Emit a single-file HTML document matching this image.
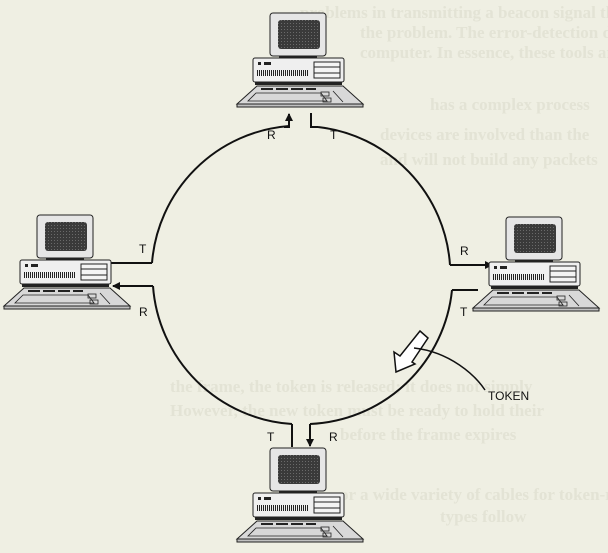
<!DOCTYPE html>
<html><head><style>
html,body{margin:0;padding:0;background:#efefe3;}
svg{display:block;}
.lbl{font-family:"Liberation Sans",sans-serif;}
.bleed{font-family:"Liberation Serif",serif;}
</style></head><body>
<svg width="608" height="553" viewBox="0 0 608 553" xmlns="http://www.w3.org/2000/svg">
<defs>
<pattern id="dots" width="3" height="3" patternUnits="userSpaceOnUse">
<rect width="3" height="3" fill="#3a3a3a"/><rect x="1" y="1" width="1" height="1" fill="#6a6a6a"/>
</pattern>
<pattern id="vent" width="2" height="6" patternUnits="userSpaceOnUse">
<rect width="1" height="6" fill="#222"/>
</pattern>
<g id="pc">
<rect x="17" y="-45" width="56" height="43" rx="3" fill="#e6e6e6" stroke="#222" stroke-width="1"/>
<rect x="25" y="-38" width="42" height="29" rx="3" fill="url(#dots)"/>
<rect x="26" y="-2" width="38" height="3" fill="#222"/>
<rect x="0" y="0" width="91" height="24" rx="2" fill="#efefef" stroke="#222" stroke-width="1"/>
<rect x="5" y="4" width="3" height="3" fill="#222"/><rect x="11" y="4" width="7" height="3" fill="#222"/>
<rect x="4" y="12" width="52" height="6" fill="url(#vent)"/>
<rect x="61" y="4" width="26" height="16" fill="#f4f4f4" stroke="#222" stroke-width="1"/>
<line x1="61" y1="9" x2="87" y2="9" stroke="#222"/><line x1="61" y1="15" x2="87" y2="15" stroke="#222"/>
<rect x="2" y="24" width="87" height="3" fill="#222"/>
<polygon points="4,28 90,28 110,46 -16,46" fill="#d8d8d8" stroke="#222" stroke-width="1"/>
<rect x="-16" y="46" width="126" height="3" fill="#c0c0c0" stroke="#222" stroke-width="1"/>
<rect x="8" y="30" width="12" height="2" fill="#222"/><rect x="23" y="30" width="12" height="2" fill="#222"/><rect x="38" y="30" width="12" height="2" fill="#222"/><rect x="53" y="30" width="10" height="2" fill="#222"/>
<polygon points="3,35 68,35 74,43 -5,43" fill="none" stroke="#222" stroke-width="0.8"/>
<rect x="68" y="34" width="8" height="4" fill="none" stroke="#222" stroke-width="0.8"/>
<rect x="70" y="40" width="8" height="4" fill="none" stroke="#222" stroke-width="0.8"/>
<line x1="80" y1="33" x2="90" y2="44" stroke="#222" stroke-width="0.8"/>
</g>
<marker id="ah" markerWidth="8" markerHeight="8" refX="7" refY="4" orient="auto" markerUnits="userSpaceOnUse">
<path d="M0,0 L8,4 L0,8 z" fill="#111"/>
</marker>
</defs>

<g fill="#e3e3d5" font-size="17" font-weight="bold" class="bleed">
<text class="bleed" x="300" y="18">problems in transmitting a beacon signal that notifies network</text>
<text class="bleed" x="360" y="38">the problem. The error-detection diagnostic tools available on a</text>
<text class="bleed" x="360" y="58">computer. In essence, these tools are built into Ethernet</text>
<text class="bleed" x="430" y="110">has a complex process</text>
<text class="bleed" x="380" y="140">devices are involved than the</text>
<text class="bleed" x="380" y="165">and will not build any packets</text>
<text class="bleed" x="170" y="392">the frame, the token is released; it does not simply</text>
<text class="bleed" x="170" y="416">However, the new token must be ready to hold their</text>
<text class="bleed" x="340" y="440">before the frame expires</text>
<text class="bleed" x="340" y="500">or a wide variety of cables for token-ring network. The main</text>
<text class="bleed" x="440" y="522">types follow</text>
</g>

<path d="M318,127 A149,149 0 0 1 450,265" fill="none" stroke="#111" stroke-width="2"/>
<path d="M452,290 A149,149 0 0 1 310,424" fill="none" stroke="#111" stroke-width="2"/>
<path d="M292,424 A149,149 0 0 1 153,286" fill="none" stroke="#111" stroke-width="2"/>
<path d="M152,263 A149,149 0 0 1 289,126" fill="none" stroke="#111" stroke-width="2"/>

<path d="M284,127 L289,127 L289,114" fill="none" stroke="#111" stroke-width="2" marker-end="url(#ah)"/>
<path d="M311,113 L311,127 L318,127" fill="none" stroke="#111" stroke-width="2"/>
<path d="M111,263 L152,263" fill="none" stroke="#111" stroke-width="2"/>
<path d="M153,286 L113,286" fill="none" stroke="#111" stroke-width="2" marker-end="url(#ah)"/>
<path d="M450,265 L492,265" fill="none" stroke="#111" stroke-width="2" marker-end="url(#ah)"/>
<path d="M452,290 L478,290" fill="none" stroke="#111" stroke-width="2"/>
<path d="M292,424 L292,447" fill="none" stroke="#111" stroke-width="2"/>
<path d="M310,424 L310,446" fill="none" stroke="#111" stroke-width="2" marker-end="url(#ah)"/>

<use href="#pc" x="253" y="58"/>
<use href="#pc" x="20" y="260"/>
<use href="#pc" x="489" y="262"/>
<use href="#pc" x="253" y="493"/>

<g font-size="12" fill="#111">
<text class="lbl" x="267" y="139">R</text>
<text class="lbl" x="330" y="139">T</text>
<text class="lbl" x="139" y="253">T</text>
<text class="lbl" x="139" y="316">R</text>
<text class="lbl" x="460" y="255">R</text>
<text class="lbl" x="460" y="316">T</text>
<text class="lbl" x="267" y="441">T</text>
<text class="lbl" x="329" y="441">R</text>
<text class="lbl" x="488" y="400">TOKEN</text>
</g>

<polygon points="420,331 428,338 412,362 415,364 396,372 394,352 400,356" fill="#fff" stroke="#111" stroke-width="1.5"/>
<path d="M414,348 C450,352 475,375 485,390" fill="none" stroke="#111" stroke-width="1.5"/>
</svg>
</body></html>
